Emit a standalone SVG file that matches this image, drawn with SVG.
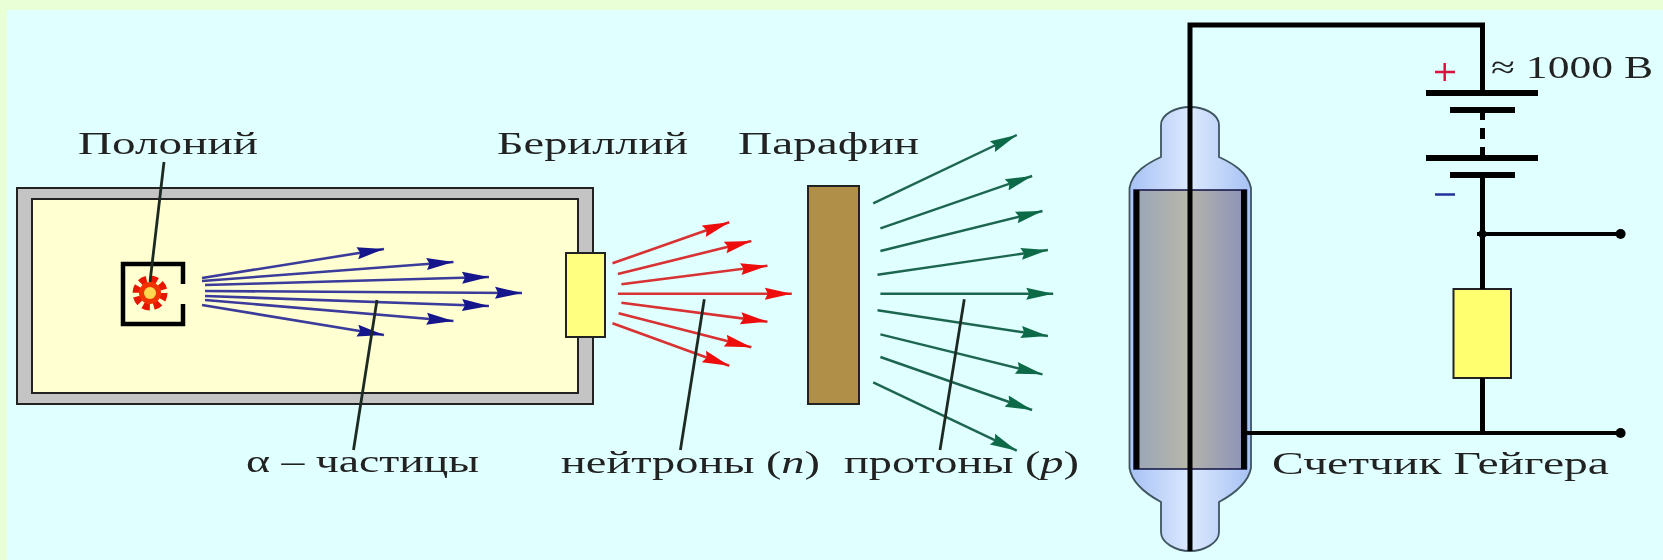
<svg xmlns="http://www.w3.org/2000/svg" width="1663" height="560" viewBox="0 0 1663 560">
<defs>
<linearGradient id="glass" x1="0" x2="1" y1="0" y2="0"><stop offset="0" stop-color="#a6c2f4"/><stop offset="0.5" stop-color="#dce9ff"/><stop offset="1" stop-color="#a6c2f4"/></linearGradient>
<linearGradient id="cyl" x1="0" x2="1" y1="0" y2="0"><stop offset="0" stop-color="#98a6b8"/><stop offset="0.45" stop-color="#b6b6aa"/><stop offset="1" stop-color="#8c92ba"/></linearGradient>
<filter id="soft" x="-5%" y="-5%" width="110%" height="110%"><feGaussianBlur stdDeviation="0.7"/></filter>
<marker id="hb" markerUnits="userSpaceOnUse" markerWidth="28" markerHeight="16" refX="27" refY="8" orient="auto"><path d="M27,8 L0,2 L3,8 L0,14 Z" fill="#14148c"/></marker>
<marker id="hr" markerUnits="userSpaceOnUse" markerWidth="28" markerHeight="16" refX="27" refY="8" orient="auto"><path d="M27,8 L0,2 L3,8 L0,14 Z" fill="#ee1111"/></marker>
<marker id="hg" markerUnits="userSpaceOnUse" markerWidth="28" markerHeight="16" refX="27" refY="8" orient="auto"><path d="M27,8 L0,2 L3,8 L0,14 Z" fill="#0f6b48"/></marker>
</defs>
<style>
text{font-family:"Liberation Serif","DejaVu Serif",serif;font-size:32px;fill:#222}
.box{stroke:#222;stroke-width:2}
.b line{stroke:#3a3a9c;stroke-width:2.6;marker-end:url(#hb)}
.r line{stroke:#d83030;stroke-width:2.6;marker-end:url(#hr)}
.g line{stroke:#1f6650;stroke-width:2.4;marker-end:url(#hg)}
.lead line{stroke:#1c2a24;stroke-width:2.8}
.w{stroke:#000;stroke-width:5;fill:none}
.p{stroke:#000;stroke-width:6;fill:none}
</style>
<rect width="1663" height="560" fill="#e9ffd6"/>
<rect x="7" y="10" width="1656" height="550" fill="#e0ffff"/>
<g filter="url(#soft)">
<g id="chamber">
<rect class="box" x="17" y="188" width="576" height="216" fill="#c4c4c4"/>
<rect class="box" x="32" y="199" width="546" height="194" fill="#ffffd2"/>
</g>
<g id="polonium">
<path d="M183,284 V264 H123 V324 H183 V304" fill="none" stroke="#000" stroke-width="4.5"/>
<circle cx="150" cy="293" r="14" fill="none" stroke="#e81800" stroke-width="7" stroke-dasharray="7 4"/>
<circle cx="150" cy="293" r="11" fill="#f03000"/>
<circle cx="150" cy="293" r="6" fill="#ffd850"/>
</g>
<g id="beryllium"><rect class="box" x="566" y="253" width="39" height="84" fill="#ffff80"/></g>
<g id="paraffin"><rect class="box" x="808" y="186" width="51" height="218" fill="#b09048"/></g>
<g id="geiger-counter">
<path d="M1129.5,188 C1132,172 1148,163 1161,157 L1161,125 C1161,114 1176,107 1190,107 C1204,107 1219,114 1219,125 L1219,157 C1232,163 1248,172 1251,188 L1251,468 C1248,484 1232,495 1219,502 L1219,532 C1219,543 1204,551 1190,551 C1176,551 1161,543 1161,532 L1161,502 C1148,495 1132,484 1129.5,468 Z" fill="url(#glass)" stroke="#3f5560" stroke-width="1.8"/>
<rect x="1134" y="190" width="112.500" height="279" fill="url(#cyl)" stroke="#101040" stroke-width="1.500"/>
<rect x="1134" y="190" width="5.500" height="279" fill="#000"/>
<rect x="1241" y="190" width="5.500" height="279" fill="#000"/>
</g>
<g id="resistor"><rect class="box" x="1453.500" y="289" width="57.500" height="89" fill="#ffff70"/></g>
<g id="battery">
<line class="p" x1="1426" y1="93" x2="1538" y2="93"/>
<line class="p" x1="1450" y1="110" x2="1515" y2="110"/>
<line class="p" x1="1426" y1="158" x2="1538" y2="158"/>
<line class="p" x1="1450" y1="175" x2="1515" y2="175"/>
<path d="M1482.500,113 V120 M1482.500,128 V139 M1482.500,147 V155" class="w"/>
<path d="M1444.700,63 V81 M1435,72 H1455" stroke="#e0103c" stroke-width="2.500" fill="none"/>
<path d="M1435,194.500 H1455" stroke="#20309c" stroke-width="2.500"/>
</g>
<g id="connectors">
<g class="b">
<line x1="202" y1="278" x2="384" y2="249"/>
<line x1="202" y1="281" x2="453.500" y2="262"/>
<line x1="205" y1="285" x2="489" y2="277"/>
<line x1="205" y1="291" x2="522" y2="293"/>
<line x1="205" y1="296" x2="489" y2="306"/>
<line x1="205" y1="300" x2="453.500" y2="321"/>
<line x1="202" y1="305" x2="384" y2="335"/>
</g>
<g class="r">
<line x1="612.500" y1="263.300" x2="729.300" y2="222.300"/>
<line x1="617.900" y1="274" x2="751.400" y2="241"/>
<line x1="621.400" y1="284.300" x2="767.500" y2="265.700"/>
<line x1="617.900" y1="293.700" x2="791.800" y2="293.700"/>
<line x1="621.400" y1="302.700" x2="767.500" y2="321.700"/>
<line x1="618.600" y1="313.300" x2="751.400" y2="347.300"/>
<line x1="612.500" y1="323.300" x2="729.300" y2="365.700"/>
</g>
<g class="g">
<line x1="873.200" y1="203.300" x2="1016.800" y2="135"/>
<line x1="880.400" y1="228.300" x2="1032.100" y2="176"/>
<line x1="880.400" y1="251" x2="1042.500" y2="211"/>
<line x1="877.500" y1="274.700" x2="1047.900" y2="250"/>
<line x1="880.400" y1="293.700" x2="1053.200" y2="293.700"/>
<line x1="877.500" y1="310.300" x2="1047.900" y2="336"/>
<line x1="880.400" y1="334.300" x2="1042.500" y2="374.300"/>
<line x1="880.400" y1="357" x2="1032.100" y2="410"/>
<line x1="873.200" y1="382.300" x2="1016.800" y2="450.700"/>
</g>
<g class="lead">
<line x1="164" y1="162" x2="150" y2="282"/>
<line x1="377" y1="300" x2="353.500" y2="450"/>
<line x1="704.300" y1="299.300" x2="680.400" y2="450"/>
<line x1="964.300" y1="299.300" x2="940" y2="450"/>
</g>
<path class="w" d="M1190,551 V25 H1482.500 V93"/>
<path class="w" d="M1482.500,175 V289 M1482.500,378 V433"/>
<path d="M1246,433 H1620.600 M1477,234 H1620.600" stroke="#000" stroke-width="4" fill="none"/>
<circle cx="1620.600" cy="433" r="5"/>
<circle cx="1620.600" cy="234" r="5"/>
<circle cx="1482.500" cy="234" r="4"/>
</g>
</g>
<g id="labels" filter="url(#soft)">
<text x="78" y="154" textLength="180" lengthAdjust="spacingAndGlyphs">Полоний</text>
<text x="497" y="154" textLength="191" lengthAdjust="spacingAndGlyphs">Бериллий</text>
<text x="738" y="154" textLength="181" lengthAdjust="spacingAndGlyphs">Парафин</text>
<text x="246" y="472" textLength="233" lengthAdjust="spacingAndGlyphs">α – частицы</text>
<text x="561" y="473" textLength="259" lengthAdjust="spacingAndGlyphs">нейтроны (<tspan font-style="italic">n</tspan>)</text>
<text x="844" y="473" textLength="235" lengthAdjust="spacingAndGlyphs">протоны (<tspan font-style="italic">p</tspan>)</text>
<text x="1491" y="78" textLength="162" lengthAdjust="spacingAndGlyphs">≈ 1000 В</text>
<text x="1272" y="474" textLength="337" lengthAdjust="spacingAndGlyphs">Счетчик Гейгера</text>
</g>
</svg>
